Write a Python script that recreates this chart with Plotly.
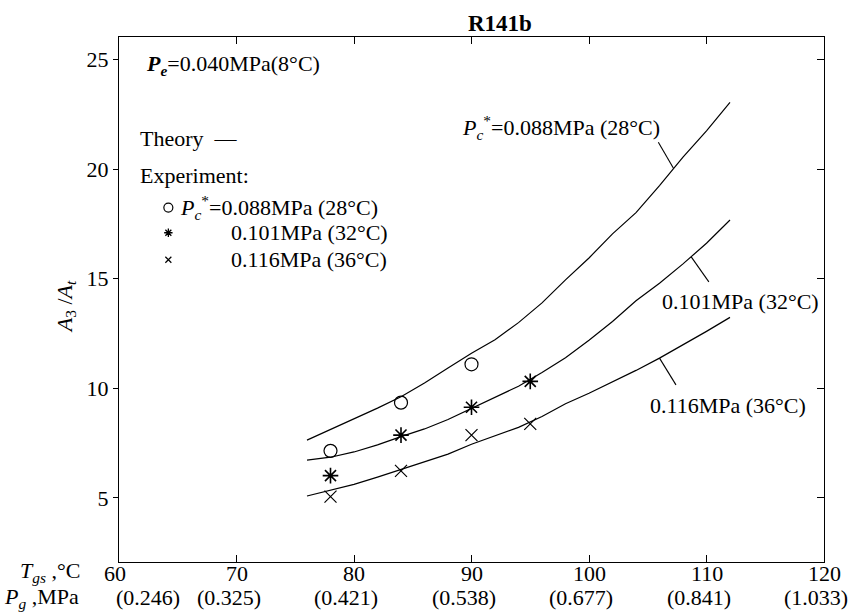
import plotly.graph_objects as go

# ---------------- data ----------------
theory_x = [76, 78, 80, 82, 84, 86, 88, 90, 92, 94, 96, 98, 100, 102, 104, 106, 108, 110, 112]
theory_28 = [7.64, 8.12, 8.63, 9.10, 9.62, 10.25, 10.93, 11.60, 12.22, 13.00, 13.90, 14.95, 15.95, 17.05, 18.02, 19.25, 20.55, 21.75, 23.05]
theory_32 = [6.73, 6.86, 7.10, 7.42, 7.80, 8.15, 8.58, 9.08, 9.58, 10.10, 10.72, 11.40, 12.20, 13.05, 14.00, 14.80, 15.68, 16.62, 17.68]
theory_36 = [5.09, 5.35, 5.62, 5.95, 6.30, 6.62, 7.00, 7.45, 7.82, 8.22, 8.72, 9.30, 9.78, 10.30, 10.82, 11.38, 11.98, 12.60, 13.24]

exp28_x = [78, 84, 90]
exp28_y = [7.15, 9.35, 11.10]
exp32_x = [78, 84, 90, 95]
exp32_y = [6.02, 7.87, 9.14, 10.32]
exp36_x = [78, 84, 90, 95]
exp36_y = [5.06, 6.24, 7.87, 8.38]

x_ticks = [60, 70, 80, 90, 100, 110, 120]
tgs_labels = ["60", "70", "80", "90", "100", "110", "120"]
pg_labels = ["(0.246)", "(0.325)", "(0.421)", "(0.538)", "(0.677)", "(0.841)", "(1.033)"]
y_ticks = [5, 10, 15, 20, 25]

# leader lines (label -> curve)
leader_28 = ([105.9, 107.2], [21.23, 20.03])
leader_32 = ([108.7, 110.2], [16.0, 14.86])
leader_36 = ([106.0, 107.4], [11.38, 10.16])

FONT = "Liberation Serif"
FS = 22
X_RANGE = [60, 120]
Y_RANGE = [2.08, 26.03]

fig = go.Figure()

line_style = dict(color="black", width=1.2)
for yy in (theory_28, theory_32, theory_36):
    fig.add_trace(go.Scatter(x=theory_x, y=yy, mode="lines", line=line_style,
                             showlegend=False, hoverinfo="skip"))
for lx, ly in (leader_28, leader_32, leader_36):
    fig.add_trace(go.Scatter(x=lx, y=ly, mode="lines", line=dict(color="black", width=1.1),
                             showlegend=False, hoverinfo="skip"))

fig.add_trace(go.Scatter(x=exp28_x, y=exp28_y, mode="markers",
                         marker=dict(symbol="circle-open", size=13, color="black",
                                     line=dict(width=1.2, color="black")),
                         showlegend=False))
fig.add_trace(go.Scatter(x=exp32_x, y=exp32_y, mode="markers",
                         marker=dict(symbol="asterisk-open", size=13, color="black",
                                     line=dict(width=1.6, color="black")),
                         showlegend=False))
fig.add_trace(go.Scatter(x=exp36_x, y=exp36_y, mode="markers",
                         marker=dict(symbol="x-thin-open", size=12, color="black",
                                     line=dict(width=1.2, color="black")),
                         showlegend=False))

# legend glyphs (in-plot key)
key_x = 64.2
key_y = [18.25, 17.1, 15.87]
fig.add_trace(go.Scatter(x=[key_x], y=[key_y[0]], mode="markers",
                         marker=dict(symbol="circle-open", size=9, color="black",
                                     line=dict(width=1.2, color="black")), showlegend=False))
fig.add_trace(go.Scatter(x=[key_x], y=[key_y[1]], mode="markers",
                         marker=dict(symbol="asterisk-open", size=7, color="black",
                                     line=dict(width=1.3, color="black")), showlegend=False))
fig.add_trace(go.Scatter(x=[key_x], y=[key_y[2]], mode="markers",
                         marker=dict(symbol="x-thin-open", size=6, color="black",
                                     line=dict(width=1.2, color="black")), showlegend=False))
# invisible trace for the right-hand axis
fig.add_trace(go.Scatter(x=[60], y=[2.5], mode="markers", marker=dict(opacity=0),
                         yaxis="y2", showlegend=False, hoverinfo="skip"))

tf = dict(family=FONT, size=FS, color="black")
ann = []
def txt(x, y, t, xanchor="left", xref="x", yref="y", size=FS, **kw):
    ann.append(dict(x=x, y=y, xref=xref, yref=yref, text=t, showarrow=False,
                    xanchor=xanchor, yanchor="middle",
                    font=dict(family=FONT, size=size, color="black"), **kw))

txt(62.09, 24.74, "<b><i>P</i></b><sub><b><i>e</i></b></sub>=0.040MPa(8°C)")
txt(61.62, 21.4, "Theory  —")
txt(61.62, 19.72, "Experiment:")
txt(65.02, key_y[0], "<i>P</i><sub><i>c</i></sub><sup>*</sup>=0.088MPa (28°C)")
txt(69.32, key_y[1], "0.101MPa (32°C)")
txt(69.32, key_y[2], "0.116MPa (36°C)")

txt(89.02, 21.9, "<i>P</i><sub><i>c</i></sub><sup>*</sup>=0.088MPa (28°C)")
txt(106.03, 13.95, "0.101MPa (32°C)")
txt(105.04, 9.24, "0.116MPa (36°C)")

# title
txt(0.5406, 1.026, "<b>R141b</b>", xanchor="center", xref="paper", yref="paper", size=23)
# y axis title
txt(-0.076, 0.486, "<i>A</i><sub>3</sub> /<i>A</i><sub><i>t</i></sub>", xanchor="center",
    xref="paper", yref="paper", textangle=-90)
# bottom axis captions
txt(-0.1428, -0.019, "<i>T</i><sub><i>gs</i></sub> ,°C", xref="paper", yref="paper")
txt(-0.1655, -0.0695, "<i>P</i><sub><i>g</i></sub> ,MPa", xref="paper", yref="paper")
for i, (xv, lab1, lab2) in enumerate(zip(x_ticks, tgs_labels, pg_labels)):
    txt(xv, -0.021, lab1, xanchor="center", yref="paper", xshift=-4 if i == 0 else 0)
    shift = 29 if i == 0 else -8
    txt(xv, -0.0685, lab2, xanchor="center", yref="paper", xshift=shift)

fig.update_layout(
    width=853, height=615,
    margin=dict(l=119, r=29, t=37, b=53),
    paper_bgcolor="white", plot_bgcolor="white",
    showlegend=False,
    annotations=ann,
    xaxis=dict(range=X_RANGE, tickvals=x_ticks, ticks="inside", ticklen=7, tickwidth=1.2,
               tickcolor="black", showline=True, linecolor="black", linewidth=1.3,
               mirror="ticks", showgrid=False, zeroline=False, showticklabels=False),
    yaxis=dict(range=Y_RANGE, tickvals=y_ticks, ticks="outside", ticklen=5, tickwidth=1.2,
               tickcolor="black", showline=True, linecolor="black", linewidth=1.3,
               mirror=True, showgrid=False, zeroline=False, tickfont=tf),
    yaxis2=dict(range=Y_RANGE, tickvals=y_ticks, overlaying="y", side="right",
                ticks="inside", ticklen=7, tickwidth=1.2, tickcolor="black",
                showticklabels=False, showline=True, linecolor="black", linewidth=1.3,
                showgrid=False, zeroline=False),
)

fig.write_html("out.html", config={"displayModeBar": False},
               post_script="document.body.style.margin='0';")
